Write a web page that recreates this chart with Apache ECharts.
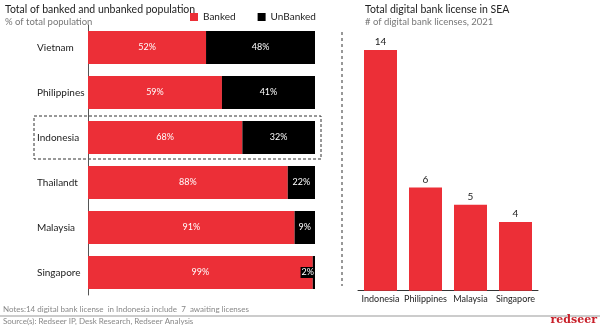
<!DOCTYPE html>
<html><head><meta charset="utf-8">
<script src="https://cdn.jsdelivr.net/npm/echarts@6/dist/echarts.min.js"></script>
<style>html,body{margin:0;padding:0;background:#fff}#c{width:600px;height:336px}</style>
</head><body><div id="c"></div>
<script>
const countries = ['Vietnam', 'Philippines', 'Indonesia', 'Thailandt', 'Malaysia', 'Singapore'];
const banked = [52, 59, 68, 88, 91, 99];
const unbanked = [48, 41, 32, 22, 9, 2];
const licenseCountries = ['Indonesia', 'Philippines', 'Malaysia', 'Singapore'];
const licenses = [14, 6, 5, 4];

const RED = '#EC2F37';
const FONT = 'Lato';
const chart = echarts.init(document.getElementById('c'));
chart.setOption({
  animation: false,
  textStyle: { fontFamily: FONT },
  title: [
    { text: 'Total of banked and unbanked population', subtext: '% of total population',
      left: 5, top: 4, itemGap: 2, padding: 0,
      textStyle: { fontSize: 10.5, fontWeight: 'normal', color: '#222', fontFamily: FONT },
      subtextStyle: { fontSize: 9.5, color: '#777', fontFamily: FONT } },
    { text: 'Total digital bank license in SEA', subtext: '# of digital bank licenses, 2021',
      left: 365, top: 4, itemGap: 2, padding: 0,
      textStyle: { fontSize: 10.5, fontWeight: 'normal', color: '#222', fontFamily: FONT },
      subtextStyle: { fontSize: 9.5, color: '#777', fontFamily: FONT } },
    { text: 'Notes:14 digital bank license  in Indonesia include  7  awaiting licenses',
      left: 3, top: 305, padding: 0, textStyle: { fontSize: 8, fontWeight: 'normal', color: '#888', fontFamily: FONT } },
    { text: 'Source(s): Redseer IP, Desk Research, Redseer Analysis',
      left: 3, top: 317.5, padding: 0, textStyle: { fontSize: 8, fontWeight: 'normal', color: '#888', fontFamily: FONT } },
    { text: 'redseer', right: 3, top: 315, padding: 0,
      textStyle: { fontSize: 11, fontWeight: 'bold', color: '#C8202A', fontFamily: 'DejaVu Serif' } }
  ],
  legend: {
    left: 190, top: 12, itemWidth: 8, itemHeight: 8, itemGap: 22, padding: 0,
    icon: 'rect',
    textStyle: { fontSize: 10, color: '#222', fontFamily: FONT },
    data: ['Banked', 'UnBanked']
  },
  graphic: [
    { type: 'line', shape: { x1: 0, y1: 316, x2: 600, y2: 316 }, style: { stroke: '#999', lineWidth: 1 } },
    { type: 'line', shape: { x1: 342, y1: 32, x2: 342, y2: 286 }, style: { stroke: '#333', lineWidth: 1, lineDash: [3, 3] } },
    { type: 'rect', shape: { x: 34, y: 116, width: 287, height: 43 }, style: { fill: 'none', stroke: '#333', lineWidth: 1, lineDash: [3, 2] } }
  ],
  grid: [
    { left: 88, top: 25, width: 227, height: 270 },
    { left: 358, top: 50, width: 180, height: 240.7 }
  ],
  xAxis: [
    { gridIndex: 0, type: 'value', min: 0, max: 100, show: false },
    { gridIndex: 1, type: 'category', data: licenseCountries,
      axisLine: { lineStyle: { color: '#333' } }, axisTick: { show: false },
      axisLabel: { fontSize: 9, color: '#222', margin: 4, interval: 0 } }
  ],
  yAxis: [
    { gridIndex: 0, type: 'category', data: countries, inverse: true,
      axisLine: { lineStyle: { color: '#555' } }, axisTick: { show: false },
      axisLabel: { align: 'left', margin: 51, fontSize: 10, color: '#222' } },
    { gridIndex: 1, type: 'value', min: 0, max: 14, show: false, splitLine: { show: false } }
  ],
  series: [
    { name: 'Banked', type: 'bar', stack: 'a', xAxisIndex: 0, yAxisIndex: 0, data: banked,
      barWidth: 33, itemStyle: { color: RED }, clip: true,
      label: { show: true, position: 'inside', formatter: '{c}%', color: '#fff', fontSize: 9 } },
    { name: 'UnBanked', type: 'bar', stack: 'a', xAxisIndex: 0, yAxisIndex: 0,
      data: unbanked.map((v, i) => i === unbanked.length - 1 ? { value: v, label: { position: 'insideRight', distance: 0 } } : v),
      barWidth: 33, itemStyle: { color: '#000' }, clip: true,
      label: { show: true, position: 'inside', formatter: '{c}%', color: '#fff', fontSize: 9,
        backgroundColor: '#000', padding: [1, 1] } },
    { name: 'Licenses', type: 'bar', xAxisIndex: 1, yAxisIndex: 1, data: licenses,
      barWidth: 33, itemStyle: { color: RED },
      label: { show: true, position: 'top', color: '#222', fontSize: 10, distance: 3 } }
  ]
});
</script></body></html>
